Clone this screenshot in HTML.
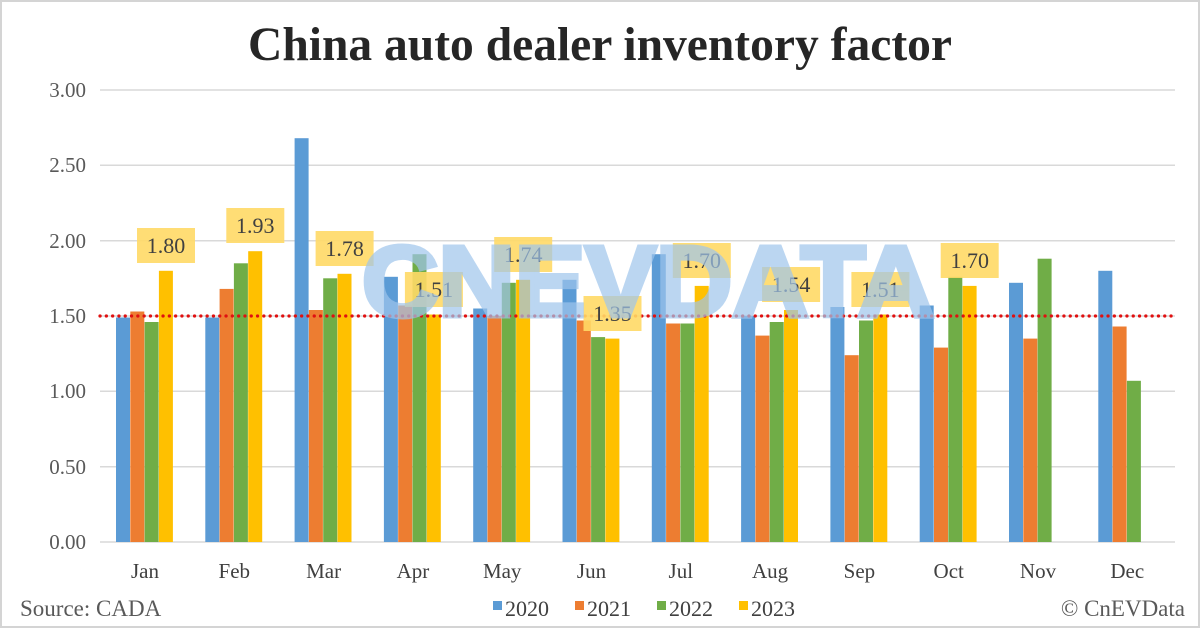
<!DOCTYPE html>
<html><head><meta charset="utf-8"><style>
html,body{margin:0;padding:0;background:#fff}
svg{display:block}
</style></head><body>
<svg width="1200" height="628" viewBox="0 0 1200 628" xmlns="http://www.w3.org/2000/svg" font-family="Liberation Serif, serif">
<rect x="1" y="1" width="1198" height="626" fill="#fff" stroke="#d4d4d4" stroke-width="2"/>
<text x="600" y="60" text-anchor="middle" font-size="48" font-weight="bold" fill="#262626" textLength="704" lengthAdjust="spacingAndGlyphs">China auto dealer inventory factor</text>
<g stroke="#d9d9d9" stroke-width="1.5">
<line x1="100" y1="90" x2="1175" y2="90"/>
<line x1="100" y1="165.3" x2="1175" y2="165.3"/>
<line x1="100" y1="240.7" x2="1175" y2="240.7"/>
<line x1="100" y1="316" x2="1175" y2="316"/>
<line x1="100" y1="391.3" x2="1175" y2="391.3"/>
<line x1="100" y1="466.7" x2="1175" y2="466.7"/>
<line x1="100" y1="542" x2="1175" y2="542"/>
</g>
<g font-size="21" fill="#595959" text-anchor="end">
<text x="86" y="97">3.00</text>
<text x="86" y="172">2.50</text>
<text x="86" y="248">2.00</text>
<text x="86" y="323">1.50</text>
<text x="86" y="398">1.00</text>
<text x="86" y="474">0.50</text>
<text x="86" y="549">0.00</text>
</g>
<g>
<rect x="116" y="317.5" width="14" height="224.5" fill="#5b9bd5"/>
<rect x="130.3" y="311.5" width="14" height="230.5" fill="#ed7d31"/>
<rect x="144.6" y="322" width="14" height="220" fill="#70ad47"/>
<rect x="158.9" y="270.8" width="14" height="271.2" fill="#ffc000"/>
<rect x="205.3" y="317.5" width="14" height="224.5" fill="#5b9bd5"/>
<rect x="219.6" y="288.9" width="14" height="253.1" fill="#ed7d31"/>
<rect x="233.9" y="263.3" width="14" height="278.7" fill="#70ad47"/>
<rect x="248.2" y="251.2" width="14" height="290.8" fill="#ffc000"/>
<rect x="294.6" y="138.2" width="14" height="403.8" fill="#5b9bd5"/>
<rect x="308.9" y="310" width="14" height="232" fill="#ed7d31"/>
<rect x="323.2" y="278.3" width="14" height="263.7" fill="#70ad47"/>
<rect x="337.5" y="273.8" width="14" height="268.2" fill="#ffc000"/>
<rect x="383.9" y="276.8" width="14" height="265.2" fill="#5b9bd5"/>
<rect x="398.2" y="305.5" width="14" height="236.5" fill="#ed7d31"/>
<rect x="412.5" y="254.2" width="14" height="287.8" fill="#70ad47"/>
<rect x="426.8" y="314.5" width="14" height="227.5" fill="#ffc000"/>
<rect x="473.2" y="308.5" width="14" height="233.5" fill="#5b9bd5"/>
<rect x="487.5" y="316" width="14" height="226" fill="#ed7d31"/>
<rect x="501.8" y="282.8" width="14" height="259.2" fill="#70ad47"/>
<rect x="516.1" y="279.8" width="14" height="262.2" fill="#ffc000"/>
<rect x="562.5" y="279.8" width="14" height="262.2" fill="#5b9bd5"/>
<rect x="576.8" y="320.5" width="14" height="221.5" fill="#ed7d31"/>
<rect x="591.1" y="337.1" width="14" height="204.9" fill="#70ad47"/>
<rect x="605.4" y="338.6" width="14" height="203.4" fill="#ffc000"/>
<rect x="651.8" y="254.2" width="14" height="287.8" fill="#5b9bd5"/>
<rect x="666.1" y="323.5" width="14" height="218.5" fill="#ed7d31"/>
<rect x="680.4" y="323.5" width="14" height="218.5" fill="#70ad47"/>
<rect x="694.7" y="285.9" width="14" height="256.1" fill="#ffc000"/>
<rect x="741.1" y="316" width="14" height="226" fill="#5b9bd5"/>
<rect x="755.4" y="335.6" width="14" height="206.4" fill="#ed7d31"/>
<rect x="769.7" y="322" width="14" height="220" fill="#70ad47"/>
<rect x="784" y="310" width="14" height="232" fill="#ffc000"/>
<rect x="830.4" y="307" width="14" height="235" fill="#5b9bd5"/>
<rect x="844.7" y="355.2" width="14" height="186.8" fill="#ed7d31"/>
<rect x="859" y="320.5" width="14" height="221.5" fill="#70ad47"/>
<rect x="873.3" y="314.5" width="14" height="227.5" fill="#ffc000"/>
<rect x="919.7" y="305.5" width="14" height="236.5" fill="#5b9bd5"/>
<rect x="934" y="347.6" width="14" height="194.4" fill="#ed7d31"/>
<rect x="948.3" y="276.8" width="14" height="265.2" fill="#70ad47"/>
<rect x="962.6" y="285.9" width="14" height="256.1" fill="#ffc000"/>
<rect x="1009" y="282.8" width="14" height="259.2" fill="#5b9bd5"/>
<rect x="1023.3" y="338.6" width="14" height="203.4" fill="#ed7d31"/>
<rect x="1037.6" y="258.7" width="14" height="283.3" fill="#70ad47"/>
<rect x="1098.3" y="270.8" width="14" height="271.2" fill="#5b9bd5"/>
<rect x="1112.6" y="326.5" width="14" height="215.5" fill="#ed7d31"/>
<rect x="1126.9" y="380.8" width="14" height="161.2" fill="#70ad47"/>
</g>
<line x1="100" y1="316" x2="1175" y2="316" stroke="#e01010" stroke-width="3.2" stroke-dasharray="0.1 6.2" stroke-linecap="round"/>
<g font-size="22" fill="#404040" text-anchor="middle">
<rect x="137" y="228" width="58" height="35" fill="#ffd966" opacity="0.9"/><text x="166" y="253">1.80</text>
<rect x="226.3" y="208" width="58" height="35" fill="#ffd966" opacity="0.9"/><text x="255.3" y="233">1.93</text>
<rect x="315.6" y="231" width="58" height="35" fill="#ffd966" opacity="0.9"/><text x="344.6" y="256">1.78</text>
<rect x="404.9" y="272" width="58" height="35" fill="#ffd966" opacity="0.9"/><text x="433.9" y="297">1.51</text>
<rect x="494.2" y="237" width="58" height="35" fill="#ffd966" opacity="0.9"/><text x="523.2" y="262">1.74</text>
<rect x="583.5" y="296" width="58" height="35" fill="#ffd966" opacity="0.9"/><text x="612.5" y="321">1.35</text>
<rect x="672.8" y="243" width="58" height="35" fill="#ffd966" opacity="0.9"/><text x="701.8" y="268">1.70</text>
<rect x="762.1" y="267" width="58" height="35" fill="#ffd966" opacity="0.9"/><text x="791.1" y="292">1.54</text>
<rect x="851.4" y="272" width="58" height="35" fill="#ffd966" opacity="0.9"/><text x="880.4" y="297">1.51</text>
<rect x="940.7" y="243" width="58" height="35" fill="#ffd966" opacity="0.9"/><text x="969.7" y="268">1.70</text>
</g>
<text x="362" y="316" font-family="Liberation Sans, sans-serif" font-weight="bold" font-size="100" fill="#9fc5ec" stroke="#9fc5ec" stroke-width="5" opacity="0.7" textLength="572" lengthAdjust="spacingAndGlyphs">CNEVDATA</text>
<g font-size="21" fill="#404040" text-anchor="middle">
<text x="145" y="578">Jan</text>
<text x="234.3" y="578">Feb</text>
<text x="323.6" y="578">Mar</text>
<text x="412.9" y="578">Apr</text>
<text x="502.2" y="578">May</text>
<text x="591.5" y="578">Jun</text>
<text x="680.8" y="578">Jul</text>
<text x="770.1" y="578">Aug</text>
<text x="859.4" y="578">Sep</text>
<text x="948.7" y="578">Oct</text>
<text x="1038" y="578">Nov</text>
<text x="1127.3" y="578">Dec</text>
</g>
<text x="20" y="616" font-size="23" fill="#595959">Source: CADA</text>
<g font-size="22" fill="#404040">
<rect x="493" y="601" width="9" height="9" fill="#5b9bd5"/><text x="505" y="616">2020</text>
<rect x="575" y="601" width="9" height="9" fill="#ed7d31"/><text x="587" y="616">2021</text>
<rect x="657" y="601" width="9" height="9" fill="#70ad47"/><text x="669" y="616">2022</text>
<rect x="739" y="601" width="9" height="9" fill="#ffc000"/><text x="751" y="616">2023</text>
</g>
<text x="1185" y="616" font-size="23" fill="#595959" text-anchor="end">© CnEVData</text>
</svg>
</body></html>
